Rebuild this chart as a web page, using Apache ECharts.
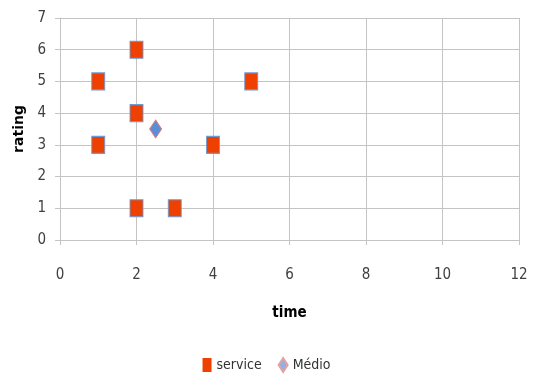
<!DOCTYPE html>
<html>
<head>
<meta charset="utf-8">
<script src="https://cdn.jsdelivr.net/npm/echarts@6/dist/echarts.min.js"></script>
<style>
  html, body { margin: 0; padding: 0; background: #fff; }
  #chart { width: 533px; height: 383px; }
</style>
</head>
<body>
<div id="chart"></div>
<script>
// Observations: time vs. rating
const serviceTime   = [1, 1, 2, 2, 2, 3, 4, 5];
const serviceRating = [5, 3, 6, 4, 1, 1, 3, 5];
const medioTime   = [2.5];
const medioRating = [3.5];
const xTicks = [0, 2, 4, 6, 8, 10, 12];
const yTicks = [0, 1, 2, 3, 4, 5, 6, 7];

const pairs = (xs, ys) => xs.map((x, i) => [x, ys[i]]);

const narrowFont = 'Liberation Sans Narrow, DejaVu Sans Condensed, sans-serif';
const labelFont = { color: '#404040', fontFamily: narrowFont, fontSize: 15 };
const gridColor = '#c4c4c4';

const chart = echarts.init(document.getElementById('chart'), null, { renderer: 'canvas' });
chart.setOption({
  animation: false,
  backgroundColor: '#ffffff',
  grid: { left: 60, right: 14, top: 18, bottom: 143, containLabel: false },
  xAxis: {
    type: 'value',
    min: xTicks[0], max: xTicks[xTicks.length - 1], interval: 2,
    name: 'time', nameLocation: 'middle', nameGap: 66,
    nameTextStyle: { fontFamily: narrowFont, fontWeight: 'bold', fontSize: 15, color: '#000' },
    axisLine: { show: true, lineStyle: { color: gridColor } },
    axisTick: { show: true, length: 5, lineStyle: { color: gridColor } },
    splitLine: { show: true, lineStyle: { color: gridColor } },
    axisLabel: Object.assign({ margin: 28 }, labelFont)
  },
  yAxis: {
    type: 'value',
    min: yTicks[0], max: yTicks[yTicks.length - 1], interval: 1,
    name: 'rating', nameLocation: 'middle', nameGap: 33, nameRotate: 90,
    nameTextStyle: { fontFamily: 'DejaVu Sans, sans-serif', fontWeight: 'bold', fontSize: 14, color: '#000' },
    axisLine: { show: true, lineStyle: { color: gridColor } },
    axisTick: { show: true, length: 5, lineStyle: { color: gridColor } },
    splitLine: { show: true, lineStyle: { color: gridColor } },
    axisLabel: Object.assign({ margin: 14 }, labelFont)
  },
  legend: {
    bottom: 5, left: 'center',
    itemWidth: 9, itemHeight: 14, itemGap: 16,
    textStyle: Object.assign({}, labelFont, { color: '#333', fontSize: 14 }),
    data: [
      { name: 'service', icon: 'rect', itemStyle: { borderWidth: 0 } },
      { name: 'Médio', icon: 'diamond', itemStyle: { color: '#8fb2e6', borderColor: '#e6a0a0' } }
    ]
  },
  series: [
    {
      name: 'service', type: 'scatter',
      symbol: 'rect', symbolSize: [13, 17],
      itemStyle: { color: '#ee4000', borderColor: '#6d9bd6', borderWidth: 1, opacity: 1 },
      data: pairs(serviceTime, serviceRating)
    },
    {
      name: 'Médio', type: 'scatter',
      symbol: 'diamond', symbolSize: [12, 18],
      itemStyle: { color: '#5b8ed8', borderColor: '#d9807a', borderWidth: 1, opacity: 1 },
      data: pairs(medioTime, medioRating)
    }
  ]
});
</script>
</body>
</html>
